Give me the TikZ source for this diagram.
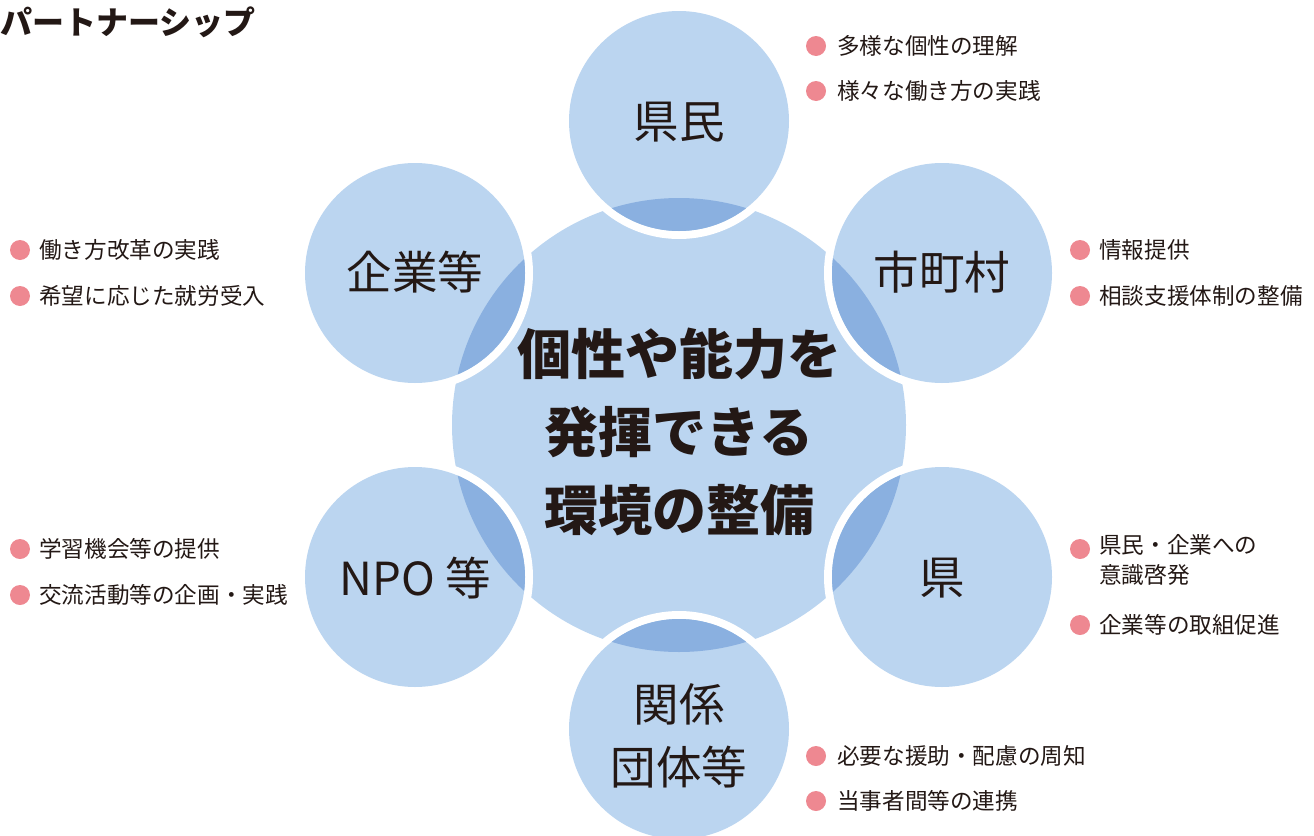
\documentclass[tikz,border=0pt]{standalone}
\usepackage{fontspec}
\setmainfont{Noto Sans CJK JP}
\definecolor{lightb}{HTML}{BBD5F0}
\definecolor{darkb}{HTML}{8AB0E0}
\definecolor{dotc}{HTML}{EE8891}
\definecolor{txt}{HTML}{231815}
\begin{document}
\begin{tikzpicture}[x=1pt,y=-1pt,
  every node/.style={text=txt,inner sep=0pt},
  outerlabel/.style={font=\fontsize{45.5}{63}\selectfont,align=center},
  bullettext/.style={anchor=west,font=\fontsize{22.6}{30}\selectfont,align=left},
  dotmark/.style={circle,fill=dotc,minimum size=20pt,inner sep=0pt}]
\useasboundingbox (0,0) rectangle (1314,835);
% central circle
\fill[lightb] (679,425) circle[radius=227];
% outer circles
\foreach \cx/\cy in {679/121, 942/273, 942/577, 679/729, 415/577, 415/273}{
  \draw[white,line width=8pt] (\cx,\cy) circle[radius=114];
  \fill[lightb] (\cx,\cy) circle[radius=110];
  \begin{scope}
    \clip (679,425) circle[radius=227];
    \fill[darkb] (\cx,\cy) circle[radius=110];
  \end{scope}
}
% title
\node[anchor=west,font=\fontsize{32}{36}\selectfont\bfseries] (title) at (0,22) {パートナーシップ};
% center
\node[align=center,font=\fontsize{54}{78}\selectfont\bfseries] (center) at (679,432) {個性や能力を\\発揮できる\\環境の整備};
% outer labels
\node[outerlabel] (kenmin) at (679,122) {県民};
\node[outerlabel] (shichoson) at (942,272) {市町村};
\node[outerlabel] (kigyo) at (415,272) {企業等};
\node[outerlabel] (npo) at (415,578) {NPO 等};
\node[outerlabel] (ken) at (942,578) {県};
\node[outerlabel] (kankei) at (679,736) {関係\\団体等};
% bullets
\node[dotmark] (d1) at (816,46) {};
\node[bullettext] (t1) at (837,46) {多様な個性の理解};
\node[dotmark] (d2) at (816,91) {};
\node[bullettext] (t2) at (837,91) {様々な働き方の実践};
\node[dotmark] (d3) at (1080,250) {};
\node[bullettext] (t3) at (1099,250) {情報提供};
\node[dotmark] (d4) at (1080,296) {};
\node[bullettext] (t4) at (1099,296) {相談支援体制の整備};
\node[dotmark] (d5) at (20,250) {};
\node[bullettext] (t5) at (39,250) {働き方改革の実践};
\node[dotmark] (d6) at (20,296) {};
\node[bullettext] (t6) at (39,296) {希望に応じた就労受入};
\node[dotmark] (d7) at (20,549) {};
\node[bullettext] (t7) at (39,549) {学習機会等の提供};
\node[dotmark] (d8) at (20,595) {};
\node[bullettext] (t8) at (39,595) {交流活動等の企画・実践};
\node[dotmark] (d9) at (1080,549) {};
\node[bullettext,anchor=north west] (t9) at (1099,534) {県民・企業への\\意識啓発};
\node[dotmark] (d10) at (1080,625) {};
\node[bullettext] (t10) at (1099,625) {企業等の取組促進};
\node[dotmark] (d11) at (816,756) {};
\node[bullettext] (t11) at (837,756) {必要な援助・配慮の周知};
\node[dotmark] (d12) at (816,801) {};
\node[bullettext] (t12) at (837,801) {当事者間等の連携};
\end{tikzpicture}
\end{document}
